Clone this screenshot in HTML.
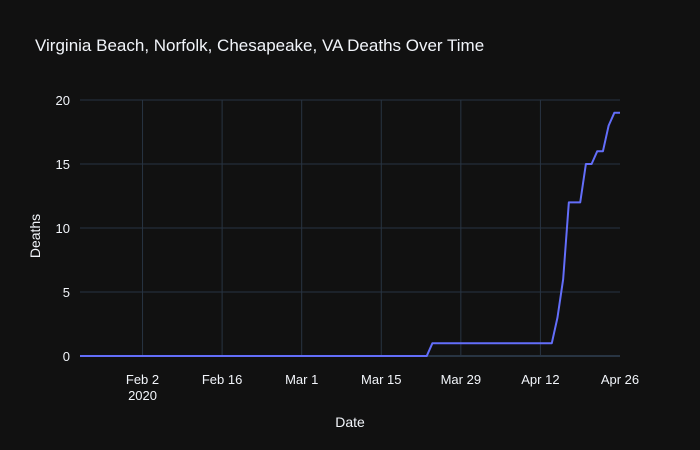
<!DOCTYPE html>
<html><head><meta charset="utf-8"><style>
body{margin:0;background:#111111;}
svg{display:block;font-family:"Liberation Sans",sans-serif;}
</style></head><body>
<svg id="chart" width="700" height="450">
<rect width="700" height="450" fill="#111111"/>
<text x="35" y="51" fill="#f2f5fa" font-size="17">Virginia Beach, Norfolk, Chesapeake, VA Deaths Over Time</text>
<g id="grid"></g>
<g id="ticks"></g>
<text x="350" y="427" fill="#f2f5fa" font-size="14" text-anchor="middle">Date</text>
<text transform="translate(40,236) rotate(-90)" fill="#f2f5fa" font-size="14" text-anchor="middle">Deaths</text>
<g id="plot"></g>
</svg>
<script>
const startDate = "2020-01-22";
const deaths = [0,0,0,0,0,0,0,0,0,0,0,0,0,0,0,0,0,0,0,0,0,0,0,0,0,0,0,0,0,0,0,0,0,0,0,0,0,0,0,0,0,0,0,0,0,0,0,0,0,0,0,0,0,0,0,0,0,0,0,0,0,0,
1,1,1,1,1,1,1,1,1,1,1,1,1,1,1,1,1,1,1,1,1,1,
3,6,12,12,12,15,15,16,16,18,19,19];
const yTicks = [0,5,10,15,20];
const xTickDates = ["2020-02-02","2020-02-16","2020-03-01","2020-03-15","2020-03-29","2020-04-12","2020-04-26"];
const xTickLabels = ["Feb 2","Feb 16","Mar 1","Mar 15","Mar 29","Apr 12","Apr 26"];

const NS="http://www.w3.org/2000/svg";
const L=80,R=620,T=100,B=356;
const DAY=86400000;
const t0=Date.parse(startDate);
const nDays=deaths.length-1;
const yMax=20;
function xDay(i){return L+(R-L)*i/nDays;}
function xDate(s){return xDay((Date.parse(s)-t0)/DAY);}
function y(v){return B-(B-T)*v/yMax;}
function mk(tag,attrs,parent){const e=document.createElementNS(NS,tag);for(const k in attrs)e.setAttribute(k,attrs[k]);parent.appendChild(e);return e;}
const grid=document.getElementById('grid'),ticks=document.getElementById('ticks'),plot=document.getElementById('plot');
yTicks.forEach(v=>{
  const g=mk('line',{x1:L,x2:R,y1:y(v),y2:y(v),stroke:'#283442','stroke-width':v===0?2:1},grid);
  
  
  const t=mk('text',{x:70,y:y(v)+5,fill:'#f2f5fa','font-size':13,'text-anchor':'end'},ticks);
  t.textContent=v;
  
  
});
xTickDates.forEach((d,i)=>{
  const x=xDate(d);
  if(x<R-1){
    const g=mk('line',{x1:x,x2:x,y1:T,y2:B,stroke:'#283442','stroke-width':1},grid);
    
    
  }
  const t=mk('text',{x:x,y:384,fill:'#f2f5fa','font-size':13,'text-anchor':'middle'},ticks);
  t.textContent=xTickLabels[i];
  
  
});
const t2=mk('text',{x:xDate(xTickDates[0]),y:400,fill:'#f2f5fa','font-size':13,'text-anchor':'middle'},ticks);
t2.textContent='2020';


const pts=deaths.map((v,i)=>xDay(i).toFixed(2)+','+y(v).toFixed(2)).join(' ');
const line=mk('polyline',{points:pts,fill:'none',stroke:'#636efa','stroke-width':2,'stroke-linejoin':'round'},plot);


</script>
</body></html>
